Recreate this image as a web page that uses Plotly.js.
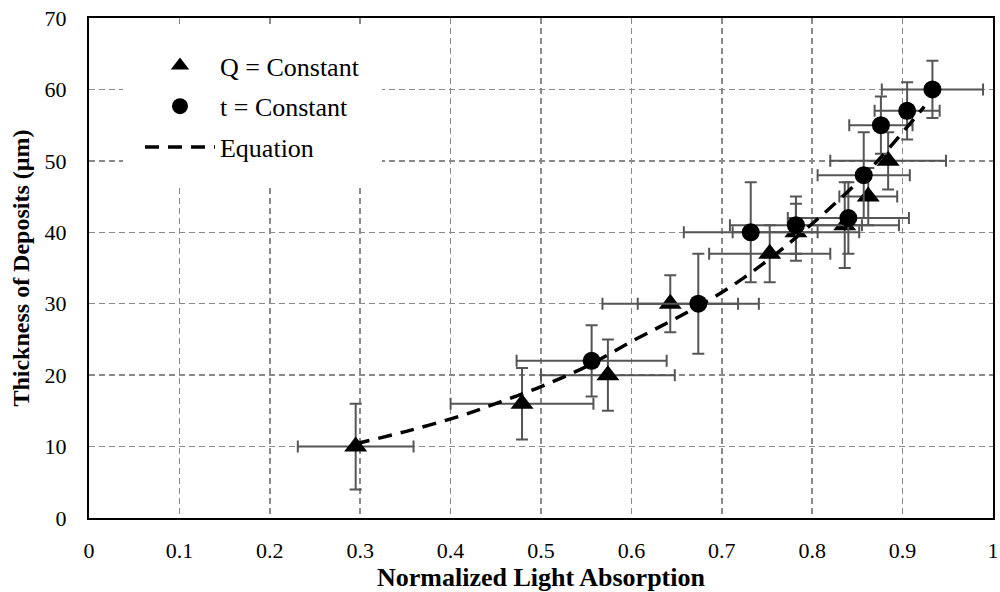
<!DOCTYPE html>
<html>
<head>
<meta charset="utf-8">
<script src="https://cdn.plot.ly/plotly-3.0.1.min.js"></script>
<style>html,body{margin:0;padding:0;background:#fff}#chart{width:1000px;height:592px}</style>
</head>
<body>
<div id="chart"></div>
<script>
// Q = Constant (triangles)
const qX    = [0.295, 0.479, 0.574, 0.643, 0.753, 0.782, 0.836, 0.862, 0.884];
const qY    = [10, 16, 20, 30, 37, 40, 41, 45, 50];
const qXErr = [0.064, 0.079, 0.074, 0.075, 0.067, 0.070, 0.060, 0.032, 0.064];
const qYErr = [6, 5, 5, 4, 4, 4, 6, 4, 4];

// t = Constant (circles)
const tX    = [0.556, 0.674, 0.732, 0.782, 0.840, 0.857, 0.876, 0.905, 0.933];
const tY    = [22, 30, 40, 41, 42, 48, 55, 57, 60];
const tXErr = [0.083, 0.067, 0.074, 0.073, 0.067, 0.051, 0.035, 0.036, 0.056];
const tYErr = [5, 7, 7, 4, 5, 6, 4, 4, 4];

// Equation curve
const eqX = [0.295, 0.35, 0.411, 0.456, 0.50, 0.55, 0.603, 0.65, 0.699, 0.75, 0.80, 0.85, 0.883, 0.924];
const eqY = [10.4, 12.1, 14.3, 16.3, 18.4, 21.2, 24.9, 28.0, 31.5, 36.0, 41.2, 47.0, 51.5, 57.6];

const xTicks = [0, 0.1, 0.2, 0.3, 0.4, 0.5, 0.6, 0.7, 0.8, 0.9, 1];
const yTicks = [0, 10, 20, 30, 40, 50, 60, 70];

const FONT = "Liberation Serif";
const errStyle = {color: '#555555', thickness: 2, width: 6};

const traces = [
  {
    x: qX, y: qY, name: 'Q = Constant', mode: 'markers', type: 'scatter',
    legendgroup: 'a',
    marker: {symbol: 'triangle-up', size: 20, color: '#000'},
    error_x: Object.assign({type: 'data', array: qXErr, visible: true}, errStyle),
    error_y: Object.assign({type: 'data', array: qYErr, visible: true}, errStyle)
  },
  {
    x: tX, y: tY, name: 't = Constant', mode: 'markers', type: 'scatter',
    legendgroup: 'b',
    marker: {symbol: 'circle', size: 18, color: '#000'},
    error_x: Object.assign({type: 'data', array: tXErr, visible: true}, errStyle),
    error_y: Object.assign({type: 'data', array: tYErr, visible: true}, errStyle)
  },
  {
    x: eqX, y: eqY, name: 'Equation', mode: 'lines', type: 'scatter',
    legendgroup: 'c',
    line: {color: '#000', width: 3.5, dash: '14px,9px', shape: 'spline'}
  }
];

const layout = {
  width: 1000, height: 592,
  margin: {l: 89, r: 7, t: 18, b: 74},
  paper_bgcolor: '#fff', plot_bgcolor: '#fff',
  font: {family: FONT, size: 22, color: '#000'},
  showlegend: true,
  legend: {
    x: 0.0376, y: 0.986, xanchor: 'left', yanchor: 'top',
    bgcolor: '#fff', bordercolor: '#fff', borderwidth: 17,
    itemwidth: 70,
    font: {family: FONT, size: 26, color: '#000'},
    tracegroupgap: 4
  },
  xaxis: {
    range: [0, 1], tickvals: xTicks, ticktext: xTicks.map(String),
    showline: true, linecolor: '#000', linewidth: 2, mirror: true,
    showgrid: true, gridcolor: '#8a8a8a', gridwidth: 1.5, griddash: '6px,4px',
    zeroline: false, ticks: '', ticklabelstandoff: 12,
    tickfont: {family: FONT, size: 22, color: '#000'},
    title: {text: 'Normalized Light Absorption', font: {family: FONT, size: 26, color: '#000', weight: 'bold'}, standoff: 4}
  },
  yaxis: {
    range: [0, 70], tickvals: yTicks, ticktext: yTicks.map(String),
    showline: true, linecolor: '#000', linewidth: 2, mirror: true,
    showgrid: true, gridcolor: '#8a8a8a', gridwidth: 1.5, griddash: '6px,4px',
    zeroline: false, ticks: '', ticklabelstandoff: 16,
    tickfont: {family: FONT, size: 22, color: '#000'},
    title: {text: 'Thickness of Deposits (µm)', font: {family: FONT, size: 24, color: '#000', weight: 'bold'}, standoff: 8}
  }
};

Plotly.newPlot('chart', traces, layout, {displayModeBar: false, staticPlot: true});
</script>
</body>
</html>
